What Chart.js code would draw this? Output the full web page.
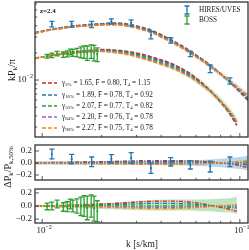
<!DOCTYPE html>
<html><head><meta charset="utf-8">
<script src="https://cdn.jsdelivr.net/npm/chart.js@4.4.1/dist/chart.umd.min.js"></script>
<style>
html,body{margin:0;padding:0;background:#fff;width:249px;height:250px;overflow:hidden}
canvas{position:absolute;left:0}
</style></head><body>
<canvas id="c1" width="249" height="139" style="top:0px"></canvas>
<canvas id="c2" width="249" height="44" style="top:139px"></canvas>
<canvas id="c3" width="249" height="67" style="top:183px"></canvas>
<canvas id="c4" width="18" height="80" style="top:128px"></canvas>
<script>
// model grid (k in s/km)
const kGrid = [0.0092,0.01,0.0112,0.0126,0.0141,0.0158,0.0178,0.02,0.0224,0.0251,0.0282,0.0316,0.0355,0.0398,0.0447,0.0501,0.0562,0.0631,0.0708,0.0794,0.0891,0.1,0.11]
const kBoss = [0.0092,0.01,0.0112,0.0126,0.0141,0.0158,0.0178,0.02,0.0224,0.0251,0.0282,0.0316,0.0355,0.0398,0.0447,0.0501,0.0562,0.0631,0.0708,0.0794,0.0891,0.0966]

// 50% model, kP/pi
const hiresBase = [0.0333,0.0346,0.0364,0.0378,0.0393,0.0400,0.0408,0.0414,0.0419,0.0414,0.0398,0.0373,0.0346,0.0308,0.0271,0.0236,0.0202,0.0171,0.0143,0.0118,0.00962,0.00774,0.00647]
const bossBase = [0.01742,0.01802,0.01881,0.01945,0.02005,0.02057,0.02099,0.02116,0.02089,0.02031,0.01945,0.01824,0.01698,0.01564,0.01431,0.01275,0.01107,0.00926,0.00755,0.00592,0.00441,0.00341]

// model ratios to the 50% model: red, blue, green, purple, orange
const hiresRed = [0.005,0.005,0.008,0.01,0.012,0.015,0.018,0.02,0.025,0.03,0.035,0.038,0.04,0.04,0.04,0.038,0.035,0.03,0.02,0.005,-0.015,-0.045,-0.08]
const hiresBlue = [0.003,0.003,0.005,0.006,0.007,0.008,0.01,0.012,0.014,0.016,0.018,0.02,0.02,0.02,0.02,0.02,0.018,0.015,0.01,0.002,-0.008,-0.02,-0.035]
const hiresGreen = [0,0,0,0,0,0,0,0,0,0,0,0,0,0,0,0,0,0,0,0,0,0,0]
const hiresPurple = [-0.002,-0.002,-0.003,-0.004,-0.005,-0.006,-0.007,-0.008,-0.009,-0.01,-0.01,-0.01,-0.01,-0.01,-0.01,-0.01,-0.01,-0.008,-0.005,0,0.006,0.012,0.02]
const hiresOrange = [-0.004,-0.004,-0.006,-0.008,-0.01,-0.012,-0.013,-0.015,-0.017,-0.019,-0.02,-0.022,-0.022,-0.022,-0.022,-0.02,-0.018,-0.014,-0.008,0,0.012,0.025,0.04]
const hiresBand = [0.03,0.03,0.03,0.03,0.03,0.03,0.03,0.03,0.03,0.03,0.03,0.032,0.034,0.036,0.038,0.04,0.045,0.05,0.06,0.07,0.085,0.1,0.12]

const bossRed = [0,0,0,0.005,0.01,0.015,0.02,0.03,0.035,0.045,0.055,0.065,0.07,0.075,0.075,0.07,0.06,0.04,0.01,-0.02,-0.05,-0.08]
const bossBlue = [0,0,0,0,0.005,0.01,0.01,0.015,0.02,0.025,0.03,0.035,0.04,0.04,0.04,0.035,0.03,0.02,0.005,-0.01,-0.02,-0.03]
const bossGreen = [0,0,0,0,0,0,0,0,0,0,0,0,0,0,0,0,0,0,0,0,0,0]
const bossPurple = [0,0,0,0,-0.003,-0.005,-0.008,-0.01,-0.01,-0.012,-0.015,-0.02,-0.02,-0.02,-0.02,-0.02,-0.015,-0.01,-0.005,0,0.005,0.01]
const bossOrange = [0,0,0,-0.003,-0.005,-0.01,-0.012,-0.015,-0.02,-0.025,-0.03,-0.035,-0.04,-0.04,-0.04,-0.035,-0.03,-0.02,-0.01,0,0.01,0.02]
const bossBandUp = [0.02,0.02,0.02,0.025,0.03,0.035,0.04,0.045,0.05,0.06,0.07,0.08,0.09,0.095,0.1,0.1,0.1,0.1,0.105,0.11,0.12,0.14]
const bossBandLo = [-0.02,-0.02,-0.02,-0.025,-0.03,-0.035,-0.04,-0.045,-0.05,-0.055,-0.06,-0.065,-0.07,-0.07,-0.07,-0.07,-0.07,-0.075,-0.08,-0.09,-0.1,-0.12]

// data
const hiresK = [0.0112,0.0141,0.0178,0.0224,0.0282,0.0355,0.0447,0.0562,0.0708,0.0891]
const hiresP = [0.0419,0.0418,0.0416,0.0448,0.0432,0.0316,0.0276,0.0196,0.0134,0.0098]
const hiresPErr = [0.0029,0.0031,0.0033,0.0029,0.0034,0.0030,0.0019,0.0014,0.0013,0.00077]
const hiresDev = [0.15,0.064,0.02,0.07,0.086,-0.086,0.02,-0.03,-0.06,0.02]
const hiresDevErr = [0.08,0.08,0.08,0.07,0.086,0.086,0.07,0.07,0.09,0.08]

const bossK = [0.0106,0.0112,0.0119,0.0128,0.0134,0.0139,0.0143,0.0150,0.0157,0.0163,0.0169,0.0177,0.0183,0.0190]
const bossP = [0.0184,0.0188,0.0197,0.0192,0.0196,0.0206,0.0201,0.0203,0.0205,0.0207,0.0202,0.0210,0.0203,0.0194]
const bossPErr = [0.0009,0.0011,0.0011,0.0013,0.0015,0.0015,0.0018,0.0022,0.0029,0.0033,0.0037,0.0036,0.0040,0.0034]
const bossDev = [-0.007,0,0.03,-0.015,-0.01,0.03,0,0,-0.005,0,-0.03,0,-0.04,-0.08]
const bossDevErr = [0.05,0.06,0.06,0.065,0.075,0.075,0.09,0.11,0.14,0.16,0.18,0.17,0.19,0.16]

// legend
const pctLabels = ['2%','16%','50%','84%','98%']
const gammaVals = ['1.65','1.89','2.07','2.20','2.27']
const fVals = ['0.80','0.78','0.77','0.76','0.75']
const t4Vals = ['1.15','0.92','0.82','0.78','0.78']

// ticks
const xMajor = [0.01, 0.1]
const xMajorLabels = ['\u22122', '\u22121']
const xMinor = [0.02,0.03,0.04,0.05,0.06,0.07,0.08,0.09]
const yMainMajor = [0.01]
const yMainMinor = [0.003,0.004,0.005,0.006,0.007,0.008,0.009,0.02,0.03,0.04,0.05,0.06,0.07]
const yDevTicks = [0.2, 0, -0.2]
const yDevLabels = ['0.2', '0.0', '\u22120.2']

const colors = ['#d62728','#1f77b4','#2ca02c','#9467bd','#ff7f0e']
const hiresRes = [hiresRed, hiresBlue, hiresGreen, hiresPurple, hiresOrange]
const bossRes = [bossRed, bossBlue, bossGreen, bossPurple, bossOrange]
const FONT = '"Liberation Serif", "DejaVu Serif", serif'
const INK = '#1a1a1a'

function pts(xs, ys) { return xs.map((x, i) => ({x: x, y: ys[i]})) }

function rich(ctx, parts, x, y, size, align, weight) {
  let w = 0
  const f = (s) => (weight || '') + ' ' + s + 'px ' + FONT
  for (const p of parts) { ctx.font = f(p[1] ? size * 0.68 : size); w += ctx.measureText(p[0]).width }
  let cx = align === 'right' ? x - w : align === 'center' ? x - w / 2 : x
  ctx.textAlign = 'left'
  ctx.textBaseline = 'middle'
  for (const p of parts) {
    const s = p[1] ? size * 0.68 : size
    ctx.font = f(s)
    const dy = p[1] === 1 ? size * 0.28 : p[1] === 2 ? -size * 0.38 : 0
    ctx.fillText(p[0], cx, y + dy)
    cx += ctx.measureText(p[0]).width
  }
}

function lineSet(data, color, dash, order, width) {
  return {data: data, showLine: true, borderColor: color, borderWidth: width, borderDash: dash,
    pointRadius: 0, fill: false, order: order, cubicInterpolationMode: 'monotone'}
}

function bandSets(lo, up, color) {
  return [
    {data: lo, showLine: true, borderWidth: 0, borderColor: 'rgba(0,0,0,0)', pointRadius: 0, fill: false, order: 20},
    {data: up, showLine: true, borderWidth: 0, borderColor: 'rgba(0,0,0,0)', pointRadius: 0, fill: '-1', backgroundColor: color, order: 20}
  ]
}

function deco(cfg) {
  return {
    id: 'deco',
    afterDatasetsDraw(chart) {
      const ctx = chart.ctx
      const a = chart.chartArea
      const xs = chart.scales.x, ys = chart.scales.y
      ctx.save()
      // error bars
      for (const eb of cfg.errbars || []) {
        ctx.strokeStyle = eb.color
        ctx.fillStyle = eb.color
        ctx.lineWidth = 1.3
        eb.k.forEach((k, i) => {
          const px = xs.getPixelForValue(k)
          const p1 = ys.getPixelForValue(eb.v[i] + eb.e[i])
          const p2 = ys.getPixelForValue(eb.v[i] - eb.e[i])
          ctx.beginPath()
          ctx.moveTo(px, p1); ctx.lineTo(px, p2)
          ctx.moveTo(px - 2.5, p1); ctx.lineTo(px + 2.5, p1)
          ctx.moveTo(px - 2.5, p2); ctx.lineTo(px + 2.5, p2)
          ctx.stroke()
          ctx.beginPath()
          ctx.arc(px, ys.getPixelForValue(eb.v[i]), 1.1, 0, Math.PI * 2)
          ctx.fill()
        })
      }
      // frame
      ctx.strokeStyle = '#333'
      ctx.lineWidth = 1.3
      ctx.strokeRect(a.left, a.top, a.right - a.left, a.bottom - a.top)
      // inward ticks
      ctx.lineWidth = 0.8
      ctx.beginPath()
      xMajor.forEach(v => { const p = xs.getPixelForValue(v); ctx.moveTo(p, a.bottom); ctx.lineTo(p, a.bottom - 4) })
      xMinor.forEach(v => { const p = xs.getPixelForValue(v); ctx.moveTo(p, a.bottom); ctx.lineTo(p, a.bottom - 2.2) })
      cfg.yMajor.forEach(v => { const p = ys.getPixelForValue(v); ctx.moveTo(a.left, p); ctx.lineTo(a.left + 4, p) })
      ;(cfg.yMinor || []).forEach(v => { const p = ys.getPixelForValue(v); ctx.moveTo(a.left, p); ctx.lineTo(a.left + 2.2, p) })
      ctx.stroke()
      ctx.fillStyle = INK
      // y tick labels
      if (cfg.yLog) {
        cfg.yMajor.forEach(v => rich(ctx, [['10', 0], ['\u22122', 2]], a.left - 2, ys.getPixelForValue(v), 9, 'right'))
      } else {
        cfg.yMajor.forEach((v, i) => rich(ctx, [[yDevLabels[i], 0]], a.left - 3, ys.getPixelForValue(v), 9, 'right'))
      }
      if (cfg.xLabels) {
        xMajor.forEach((v, i) => rich(ctx, [['10', 0], [xMajorLabels[i], 2]], xs.getPixelForValue(v) + 2, a.bottom + 8, 9, 'center'))
        rich(ctx, [['k [s/km]', 0]], 142, a.bottom + 21, 9.5, 'center')
      }
      if (cfg.draw) cfg.draw(ctx, a)
      ctx.restore()
    }
  }
}

function makeChart(id, datasets, yScale, pad, cfg) {
  return new Chart(document.getElementById(id), {
    type: 'scatter',
    data: {datasets: datasets},
    options: {
      responsive: false, animation: false, devicePixelRatio: 1,
      layout: {padding: pad},
      plugins: {legend: {display: false}, tooltip: {enabled: false}},
      scales: {
        x: {type: 'logarithmic', min: 0.0092, max: 0.11, display: false},
        y: Object.assign({display: false}, yScale)
      }
    },
    plugins: [deco(cfg)]
  })
}

// main panel
const mainSets = []
  .concat(bandSets(pts(kGrid, hiresBase.map((b, i) => b * (1 - hiresBand[i]))), pts(kGrid, hiresBase.map((b, i) => b * (1 + hiresBand[i]))), 'rgba(31,119,180,0.16)'))
  .concat(bandSets(pts(kBoss, bossBase.map((b, i) => b * (1 + bossBandLo[i]))), pts(kBoss, bossBase.map((b, i) => b * (1 + bossBandUp[i]))), 'rgba(44,160,44,0.18)'))
for (let m = 0; m < 5; m++) {
  mainSets.push(lineSet(pts(kGrid, hiresBase.map((b, i) => b * (1 + hiresRes[m][i]))), colors[m], [4, 2], 10 - m, 1.6))
  mainSets.push(lineSet(pts(kBoss, bossBase.map((b, i) => b * (1 + bossRes[m][i]))), colors[m], [4, 2], 10 - m, 1.6))
}

makeChart('c1', mainSets, {type: 'logarithmic', min: 0.00233, max: 0.0736}, {left: 35, right: 1, top: 2, bottom: 2}, {
  yLog: true, yMajor: yMainMajor, yMinor: yMainMinor,
  errbars: [{k: hiresK, v: hiresP, e: hiresPErr, color: colors[1]}, {k: bossK, v: bossP, e: bossPErr, color: colors[2]}],
  draw(ctx, a) {
    rich(ctx, [['z=2.4', 0]], 40, 11, 7, 'left', 'bold')
    // data legend
    ;[['HIRES/UVES', colors[1], 10], ['BOSS', colors[2], 20]].forEach(r => {
      ctx.strokeStyle = r[1]; ctx.lineWidth = 1.3
      ctx.beginPath()
      ctx.moveTo(187, r[2] - 4); ctx.lineTo(187, r[2] + 4)
      ctx.moveTo(184.5, r[2] - 4); ctx.lineTo(189.5, r[2] - 4)
      ctx.moveTo(184.5, r[2] + 4); ctx.lineTo(189.5, r[2] + 4)
      ctx.stroke()
      ctx.fillStyle = INK
      rich(ctx, [[r[0], 0]], 199, r[2], 7.2, 'left')
    })
    // model legend
    const rows = [83, 95, 106, 117, 128]
    for (let m = 0; m < 5; m++) {
      ctx.strokeStyle = colors[m]; ctx.lineWidth = 1.6; ctx.setLineDash([4, 2])
      ctx.beginPath(); ctx.moveTo(42, rows[m]); ctx.lineTo(57, rows[m]); ctx.stroke()
      ctx.setLineDash([])
      ctx.fillStyle = INK
      rich(ctx, [['\u03b3', 0], [pctLabels[m], 1], [' = ' + gammaVals[m] + ', F\u0304 = ' + fVals[m] + ', T', 0], ['4', 1], [' = ' + t4Vals[m], 0]], 62, rows[m], 7.2, 'left')
    }
    ctx.save(); ctx.translate(12, 70); ctx.rotate(-Math.PI / 2)
    rich(ctx, [['kP', 0], ['k', 1], ['/\u03c0', 0]], 0, 0, 10, 'center')
    ctx.restore()
  }
})

// HIRES ratio panel
const midSets = bandSets(pts(kGrid, hiresBand.map(v => -v)), pts(kGrid, hiresBand), 'rgba(31,119,180,0.3)')
for (let m = 0; m < 5; m++) midSets.push(lineSet(pts(kGrid, hiresRes[m]), colors[m], [4, 1.5, 1, 1.5], 10 - m, 1.4))
makeChart('c2', midSets, {type: 'linear', min: -0.283, max: 0.3}, {left: 35, right: 1, top: 6, bottom: 3}, {
  yMajor: yDevTicks,
  errbars: [{k: hiresK, v: hiresDev, e: hiresDevErr, color: colors[1]}]
})

// BOSS ratio panel
const lowSets = bandSets(pts(kBoss, bossBandLo), pts(kBoss, bossBandUp), 'rgba(44,160,44,0.3)')
for (let m = 0; m < 5; m++) lowSets.push(lineSet(pts(kBoss, bossRes[m]), colors[m], [4, 1.5, 1, 1.5], 10 - m, 1.4))
makeChart('c3', lowSets, {type: 'linear', min: -0.26, max: 0.26}, {left: 35, right: 1, top: 6, bottom: 27}, {
  yMajor: yDevTicks, xLabels: true,
  errbars: [{k: bossK, v: bossDev, e: bossDevErr, color: colors[2]}]
})

// shared ratio label
const lc = document.getElementById('c4').getContext('2d')
lc.fillStyle = INK
lc.translate(8, 39); lc.rotate(-Math.PI / 2)
rich(lc, [['\u0394P', 0], ['k', 1], ['/P', 0], ['k,50%', 1]], 0, 0, 10, 'center')
</script>
</body></html>
